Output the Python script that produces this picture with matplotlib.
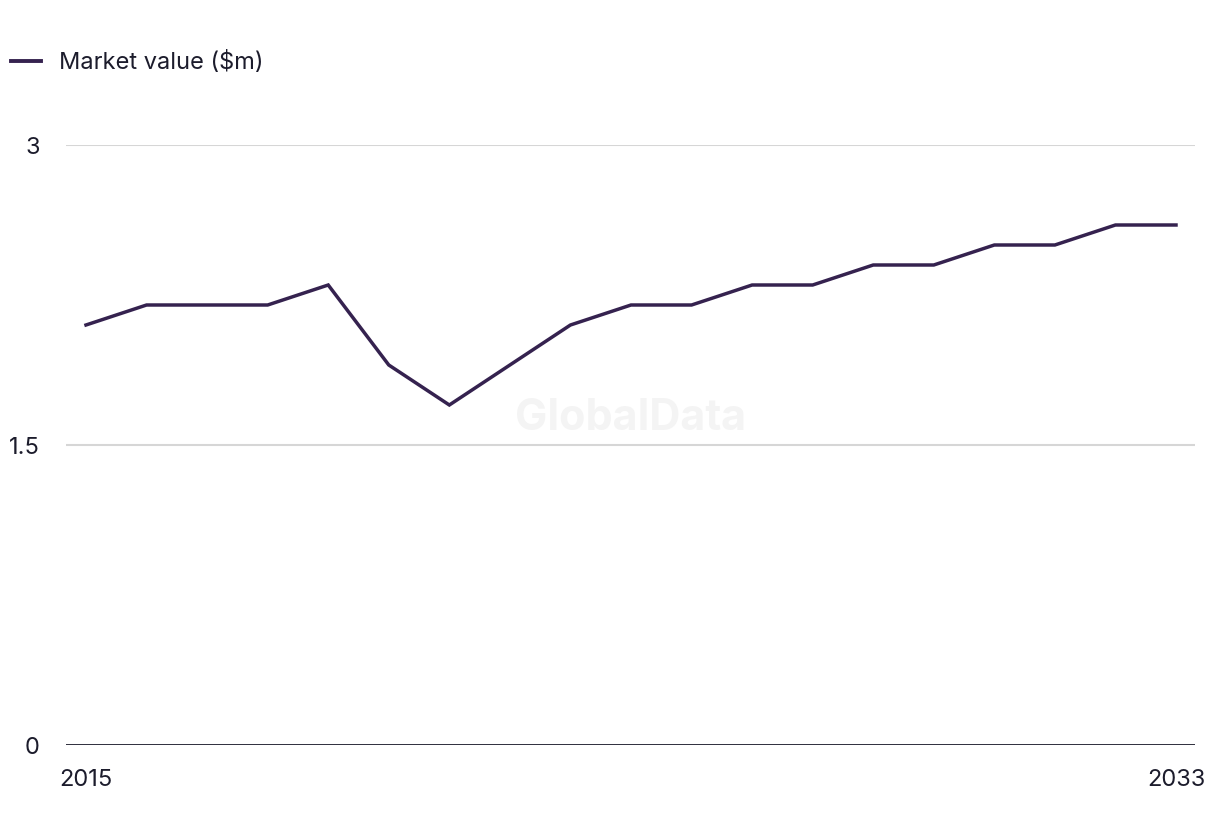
import matplotlib
matplotlib.use("Agg")
import matplotlib.pyplot as plt
from matplotlib.lines import Line2D

years = list(range(2015, 2034))
values = [2.1, 2.2, 2.2, 2.2, 2.3, 1.9, 1.7, 1.9, 2.1, 2.2, 2.2, 2.3, 2.3, 2.4, 2.4, 2.5, 2.5, 2.6, 2.6]
series_name = "Market value ($m)"
yticks = [0, 1.5, 3]
ytick_labels = ["0", "1.5", "3"]
xticks = [2015, 2033]

line_color = "#35224f"
text_color = "#1c1c2c"
grid_color = "#d6d6d6"

plt.rcParams['font.family'] = ['Inter', 'DejaVu Sans']

fig = plt.figure(figsize=(12.2, 8.36), dpi=100)
ax = fig.add_axes([66/1220, 91/836, (1195-66)/1220, (745-145)/836])

ax.plot(years, values, color=line_color, linewidth=2.5, clip_on=False, zorder=3,
        solid_joinstyle='miter')
ax.set_xlim(2015 - 20/60.56, 2033 + 19/60.56)
ax.set_ylim(0, 3)

for v in yticks[1:]:
    ax.axhline(v, color=grid_color, linewidth=1.5, zorder=1)
ax.axhline(0, color=text_color, linewidth=2.0, zorder=2)

for s in ax.spines.values():
    s.set_visible(False)

ax.set_yticks(yticks)
ax.set_yticklabels(ytick_labels)
ax.set_xticks(xticks)
ax.set_xticklabels([str(x) for x in xticks])
ax.tick_params(axis='y', length=0, pad=19, labelsize=17, labelcolor=text_color)
ax.tick_params(axis='x', length=0, pad=17, labelsize=17, labelcolor=text_color)

ax.text(0.5, 0.545, "GlobalData", transform=ax.transAxes, ha='center', va='center',
        fontsize=31, fontweight='bold', color='#f4f4f4', zorder=0)

# legend
fig.add_artist(Line2D([11/1220, 41/1220], [1 - 61/836, 1 - 61/836], color=line_color,
                      linewidth=2.8, transform=fig.transFigure))
fig.text(59/1220, 1 - 62/836, series_name, ha='left', va='center', fontsize=17,
         color=text_color)

fig.savefig("out.png", dpi=100)
